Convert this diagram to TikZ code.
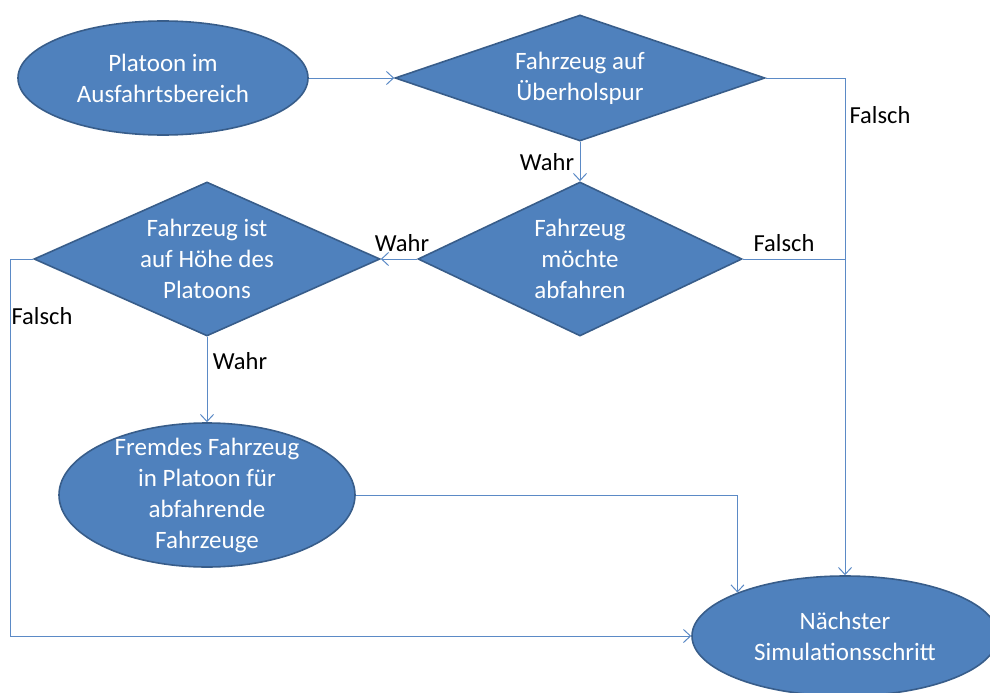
\documentclass[tikz,border=0pt]{standalone}
\usepackage{fontspec}
\setmainfont{Carlito}
\usetikzlibrary{shapes.geometric,arrows.meta}
\definecolor{boxfill}{HTML}{4F81BD}
\definecolor{boxline}{HTML}{385D8A}
\definecolor{connline}{HTML}{5B8AC6}
\tikzset{
  ovalbox/.style={ellipse,draw=boxline,line width=1.6pt,fill=boxfill,inner sep=0pt},
  decisionbox/.style={diamond,draw=boxline,line width=1.6pt,fill=boxfill,inner sep=0pt},
  boxtext/.style={text=white,align=center,font=\fontsize{25}{31}\selectfont},
  edgelabel/.style={text=black,font=\fontsize{24.5}{30}\selectfont,inner sep=0pt},
  conn/.style={draw=connline,line width=1pt},
  arr/.style={conn,-{Straight Barb[length=7pt,width=13pt]}},
}
\begin{document}
\begin{tikzpicture}[x=1pt,y=-1pt]
\useasboundingbox (0,0) rectangle (990,693);

% shapes
\node[ovalbox,minimum width=290pt,minimum height=114pt] (e1) at (163,78) {};
\node[decisionbox,minimum width=370pt,minimum height=126pt] (d1) at (580,78) {};
\node[decisionbox,minimum width=324pt,minimum height=154pt] (d2) at (580,259) {};
\node[decisionbox,minimum width=346pt,minimum height=154pt] (d3) at (207,259) {};
\node[ovalbox,minimum width=296pt,minimum height=144pt] (e2) at (207,495) {};
\node[ovalbox,minimum width=306pt,minimum height=120pt] (ef) at (845,636) {};

% texts
\node[boxtext] (e1t) at (e1) {Platoon im\\Ausfahrtsbereich};
\node[boxtext] (d1t) at (d1) {Fahrzeug auf\\Überholspur};
\node[boxtext] (d2t) at (d2) {Fahrzeug\\möchte\\abfahren};
\node[boxtext] (d3t) at (d3) {Fahrzeug ist\\auf Höhe des\\Platoons};
\node[boxtext] (e2t) at (e2) {Fremdes Fahrzeug\\in Platoon für\\abfahrende\\Fahrzeuge};
\node[boxtext] (eft) at (ef) {Nächster\\Simulationsschritt};

% helper for the left return line
\coordinate (lc) at (10,0);

% connectors
\draw[arr] (e1.east) -- (d1.west);
\draw[arr] (d1.south) -- (d2.north);
\draw[arr] (d1.east) -| (ef.north);
\draw[conn] (d2.east) -- (d2.east -| ef.north);
\draw[arr] (d2.west) -- (d3.east);
\draw[arr] (d3.south) -- (e2.north);
\draw[arr] (d3.west) -- (d3.west -| lc) |- (ef.west);
\draw[arr] (e2.east) -| (ef.158.15);

% labels
\node[edgelabel] (l1) at (880,115) {Falsch};
\node[edgelabel] (l2) at (547,162) {Wahr};
\node[edgelabel] (l3) at (402,243) {Wahr};
\node[edgelabel] (l4) at (784,243) {Falsch};
\node[edgelabel] (l5) at (42,316) {Falsch};
\node[edgelabel] (l6) at (240,361) {Wahr};
\end{tikzpicture}
\end{document}
